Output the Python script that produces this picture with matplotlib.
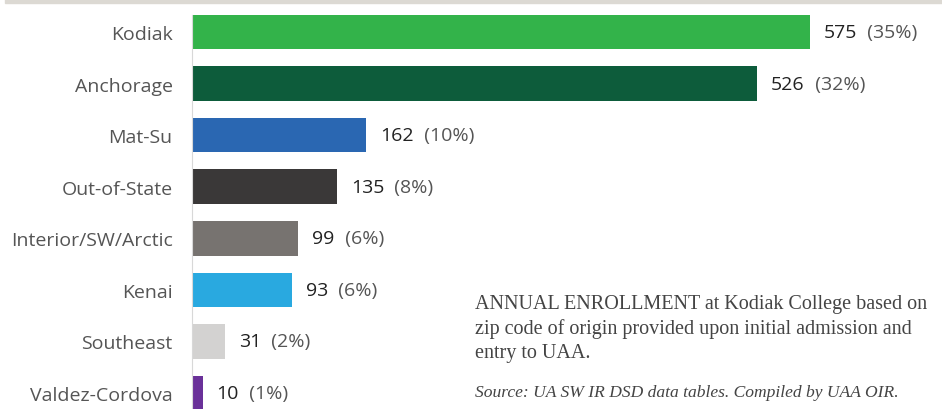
# Kodiak College annual enrollment by region of origin

import matplotlib.pyplot as plt
from matplotlib.patches import Rectangle

regions = ['Kodiak', 'Anchorage', 'Mat-Su', 'Out-of-State', 'Interior/SW/Arctic',
           'Kenai', 'Southeast', 'Valdez-Cordova']
counts = [575, 526, 162, 135, 99, 93, 31, 10]
shares = ['35%', '32%', '10%', '8%', '6%', '6%', '2%', '1%']
colors = ['#33b34a', '#0d5c3b', '#2a67b2', '#3a3838', '#777370',
          '#29a9e0', '#d3d2d1', '#6a3199']

plt.rcParams['font.family'] = ['Open Sans', 'DejaVu Sans']

fig = plt.figure(figsize=(9.42, 4.10), dpi=100)
ax = fig.add_axes([192 / 942, 0, 750 / 942, 1])

ax.barh(range(len(regions)), counts, height=0.67, color=colors)
ax.set_xlim(0, 697.8)
ax.set_ylim(7.31, -0.64)

# value labels
for i, (c, s) in enumerate(zip(counts, shares)):
    t = ax.annotate(str(c), (c, i), xytext=(10, 0), textcoords='offset points',
                    va='center', ha='left', fontsize=14, color='#222222')
    ax.annotate('  (' + s + ')', (1, 0.5), xycoords=t, va='center', ha='left',
                fontsize=14, color='#555555')

ax.set_yticks(range(len(regions)))
ax.set_yticklabels(regions, fontsize=14, color='#555555')
ax.tick_params(axis='y', length=0, pad=14)
ax.set_xticks([])

for side in ['top', 'right', 'bottom']:
    ax.spines[side].set_visible(False)
ax.spines['left'].set_color('#d8d8d8')
ax.spines['left'].set_bounds(-0.33, 7.31)

# thin band at the top
fig.patches.append(Rectangle((5 / 942, 406.5 / 410), 1, 4 / 410, transform=fig.transFigure,
                             color='#dcd9d3', zorder=0))

fig.text(475 / 942, 1 - 329 / 410,
         'ANNUAL ENROLLMENT at Kodiak College based on\n'
         'zip code of origin provided upon initial admission and\n'
         'entry to UAA.',
         family='Liberation Serif', fontsize=14.5, color='#444444', va='center',
         linespacing=1.38, ha='left')
fig.text(475 / 942, 1 - 393 / 410, 'Source: UA SW IR DSD data tables. Compiled by UAA OIR.',
         family='Liberation Serif', style='italic', fontsize=12.6, color='#444444',
         va='center', ha='left')

fig.savefig('out.png', dpi=100)
